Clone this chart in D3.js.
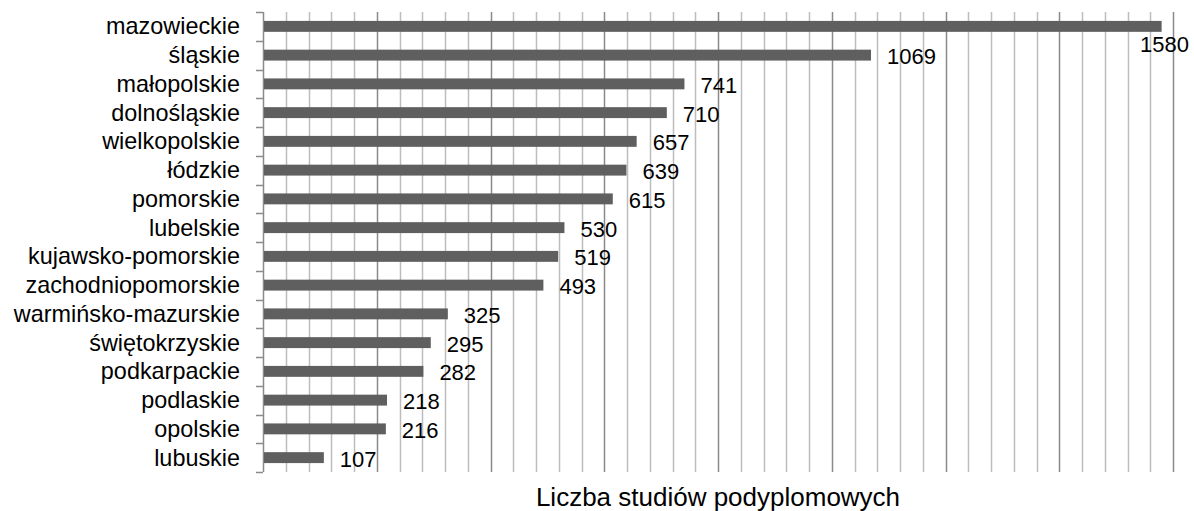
<!DOCTYPE html>
<html>
<head>
<meta charset="utf-8">
<script src="https://cdnjs.cloudflare.com/ajax/libs/d3/7.8.5/d3.min.js"></script>
<style>
  html, body { margin: 0; padding: 0; background: #fff; }
  svg { display: block; }
  text { font-family: "Liberation Sans", Arial, sans-serif; fill: #000; }
</style>
</head>
<body>
<svg id="chart" width="1194" height="511"></svg>
<script>
const categories = ["mazowieckie","śląskie","małopolskie","dolnośląskie","wielkopolskie","łódzkie","pomorskie","lubelskie","kujawsko-pomorskie","zachodniopomorskie","warmińsko-mazurskie","świętokrzyskie","podkarpackie","podlaskie","opolskie","lubuskie"];
const values = [1580,1069,741,710,657,639,615,530,519,493,325,295,282,218,216,107];
const axisTitle = "Liczba studiów podyplomowych";
const xMax = 1600, majorStep = 200, minorStep = 40;

const W = 1194, H = 511;
const m = {left: 263, right: 21, top: 12, bottom: 39};
const svg = d3.select("#chart");
const fsCat = 23.4, fsVal = 22, fsTitle = 26;

const x = d3.scaleLinear().domain([0, xMax]).range([m.left, W - m.right]);
const y = d3.scaleBand().domain(categories).range([m.top, H - m.bottom]).paddingInner(0.62).paddingOuter(0.31);

// gridlines
const minorTicks = d3.range(minorStep, xMax + 1, minorStep).filter(v => v % majorStep !== 0);
const majorTicks = d3.range(majorStep, xMax + 1, majorStep);
svg.append("g").selectAll("line").data(minorTicks).join("line")
  .attr("x1", d => Math.round(x(d)) + 0.5).attr("x2", d => Math.round(x(d)) + 0.5)
  .attr("y1", m.top).attr("y2", H - m.bottom)
  .attr("stroke", "#bdbdbd").attr("stroke-width", 1.5);
svg.append("g").selectAll("line").data(majorTicks).join("line")
  .attr("x1", d => Math.round(x(d)) + 0.5).attr("x2", d => Math.round(x(d)) + 0.5)
  .attr("y1", m.top).attr("y2", H - m.bottom)
  .attr("stroke", "#8a8a8a").attr("stroke-width", 1.5);

// y axis
const step = y.step();
const tickYs = d3.range(categories.length + 1).map(i => m.top + i * step);
const ax = svg.append("g");
ax.append("line").attr("x1", m.left + 0.5).attr("x2", m.left + 0.5)
  .attr("y1", m.top).attr("y2", H - m.bottom).attr("stroke", "#8a8a8a").attr("stroke-width", 1.5);
ax.selectAll("line.t").data(tickYs).join("line").attr("class", "t")
  .attr("x1", m.left - 7).attr("x2", m.left)
  .attr("y1", d => Math.round(d) + 0.5).attr("y2", d => Math.round(d) + 0.5)
  .attr("stroke", "#8a8a8a").attr("stroke-width", 1.5);
ax.selectAll("text").data(categories).join("text")
  .attr("x", m.left - 23)
  .attr("y", d => y(d) + y.bandwidth() / 2 + 8)
  .attr("text-anchor", "end")
  .attr("font-size", fsCat)
  .text(d => d);

// bars
const data = categories.map((c, i) => ({c, v: values[i]}));
svg.append("g").selectAll("rect").data(data).join("rect")
  .attr("x", x(0) + 1)
  .attr("y", d => y(d.c))
  .attr("width", d => x(d.v) - x(0) - 1)
  .attr("height", y.bandwidth())
  .attr("fill", "#5f5f5f");

// value labels
const lbl = svg.append("g").selectAll("text").data(data).join("text")
  .attr("font-size", fsVal)
  .text(d => d.v);
lbl.each(function(d) {
  const t = d3.select(this);
  const w = this.getComputedTextLength();
  let lx = x(d.v) + 16;
  let ly = y(d.c) + y.bandwidth() / 2 + 9;
  if (lx + w > W - 5) {
    lx = W - 5 - w;
    ly += 17;
  }
  t.attr("x", lx).attr("y", ly);
});

// axis title
svg.append("text")
  .attr("x", (x(0) + x(xMax)) / 2)
  .attr("y", 506)
  .attr("text-anchor", "middle")
  .attr("font-size", fsTitle)
  .text(axisTitle);
</script>
</body>
</html>
